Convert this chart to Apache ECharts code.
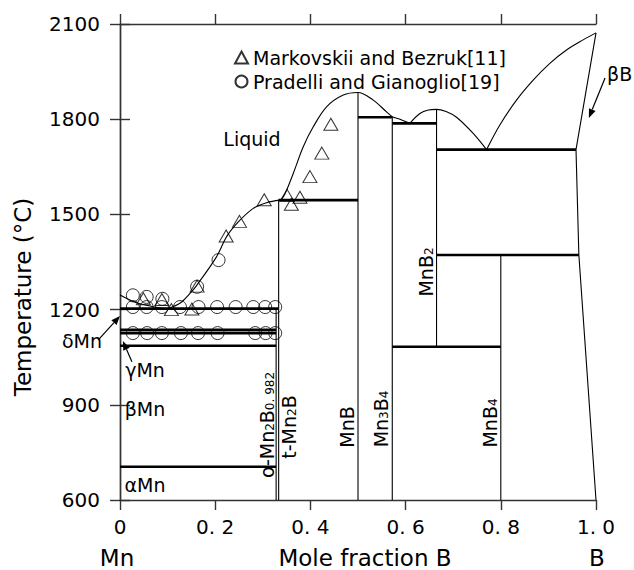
<!DOCTYPE html>
<html>
<head>
<meta charset="utf-8">
<title>Mn-B phase diagram</title>
<script src="https://cdn.jsdelivr.net/npm/echarts@6/dist/echarts.min.js"></script>
<style>
  html, body { margin: 0; padding: 0; background: #fff; }
  #chart { width: 634px; height: 570px; }
</style>
</head>
<body>
<div id="chart"></div>
<script>
var FONT = 'DejaVu Sans';

// axes
var xTicks = [0, 0.2, 0.4, 0.6, 0.8, 1.0];
var xTickLabels = ['0', '0. 2', '0. 4', '0. 6', '0. 8', '1. 0'];
var yTicks = [600, 900, 1200, 1500, 1800, 2100];

// liquidus as [mole fraction B, T]
var liqMnSide = [[0, 1246], [0.02, 1231], [0.04, 1219], [0.07, 1209], [0.1, 1203]];
var liqMn2B = [[0.1, 1203], [0.126, 1220], [0.147, 1251], [0.16, 1274], [0.203, 1367], [0.224, 1430],
  [0.249, 1477], [0.28, 1519], [0.308, 1537], [0.336, 1545]];
var liqMnB = [[0.338, 1545], [0.347, 1566], [0.364, 1629], [0.385, 1713], [0.406, 1776], [0.434, 1839],
  [0.469, 1876], [0.5, 1884], [0.532, 1860], [0.56, 1823], [0.572, 1808], [0.588, 1800], [0.609, 1787]];
var liqMnB2 = [[0.609, 1787], [0.63, 1818], [0.648, 1829], [0.665, 1831], [0.685, 1824], [0.707, 1806],
  [0.742, 1755], [0.77, 1704]];
var liqB = [[0.77, 1704], [0.798, 1782], [0.833, 1860], [0.868, 1923], [0.903, 1976], [0.938, 2018],
  [0.973, 2050], [1.0, 2072]];
var solidusB = [[1.0, 2072], [0.958, 1704], [0.964, 1372], [1.0, 600]];

// invariant lines: [T, x from, x to]
var isotherms = [
  [1203, 0, 0.333], [1136, 0, 0.328], [1126, 0, 0.328], [1086, 0, 0.328], [705, 0, 0.328],
  [1545, 0.333, 0.5], [1806, 0.5, 0.572], [1787, 0.572, 0.665],
  [1704, 0.665, 0.958], [1372, 0.665, 0.964], [1083, 0.572, 0.8]
];
// compounds: [x, T bottom, T top]
var compounds = [
  [0.328, 600, 1203], [0.3333, 600, 1545], [0.5, 600, 1884],
  [0.572, 600, 1806], [0.665, 1083, 1831], [0.8, 600, 1372]
];

// experimental points
var markovskii = [[0.049, 1234], [0.088, 1232], [0.108, 1200], [0.151, 1202], [0.162, 1274],
  [0.223, 1432], [0.251, 1478], [0.303, 1546], [0.351, 1560], [0.36, 1532], [0.378, 1554],
  [0.399, 1619], [0.424, 1693], [0.443, 1784]];
var pradelli = [[0.027, 1245], [0.056, 1240], [0.089, 1234], [0.162, 1272], [0.207, 1356],
  [0.027, 1208], [0.056, 1208], [0.088, 1208], [0.126, 1208], [0.165, 1208], [0.204, 1208],
  [0.243, 1208], [0.28, 1208], [0.305, 1208], [0.326, 1208],
  [0.027, 1126], [0.057, 1126], [0.088, 1126], [0.128, 1126], [0.164, 1126], [0.205, 1126],
  [0.284, 1126], [0.306, 1126], [0.326, 1126]];

// arrows for the labels: [from, tip]
var arrowDeltaMn = [[-0.046, 1104], [0, 1180]];
var arrowGammaMn = [[0.025, 1036], [0.006, 1101]];
var arrowBetaB = [[1.019, 1930], [0.985, 1804]];

var black = '#000';
var thin = {color: black, width: 1.1};
var thick = {color: black, width: 2.6};

function lineSeries(data, style) {
  return {
    type: 'line', data: data, symbol: 'none', smooth: false, clip: false,
    lineStyle: style, silent: true, animation: false, z: 3
  };
}
function curveSeries(data) {
  var s = lineSeries(data, thin);
  s.smooth = 0.35;
  return s;
}

var series = [];
[liqMnSide, liqMn2B, liqMnB, liqMnB2, liqB].forEach(function (d) { series.push(curveSeries(d)); });
series.push(lineSeries(solidusB, thin));
isotherms.forEach(function (h) {
  series.push(lineSeries([[h[1], h[0]], [h[2], h[0]]], thick));
});
compounds.forEach(function (c) {
  series.push(lineSeries([[c[0], c[1]], [c[0], c[2]]], thin));
});
series.push({
  name: 'Markovskii and Bezruk[11]', type: 'scatter', data: markovskii,
  symbol: 'triangle', symbolSize: [14, 12], z: 5, animation: false,
  itemStyle: {color: 'rgba(0,0,0,0)', borderColor: black, borderWidth: 1}
});
series.push({
  name: 'Pradelli and Gianoglio[19]', type: 'scatter', data: pradelli,
  symbol: 'circle', symbolSize: 13, z: 5, animation: false,
  itemStyle: {color: 'rgba(0,0,0,0)', borderColor: black, borderWidth: 1}
});

var axisLine = {show: true, lineStyle: {color: '#333', width: 1.4}};
var axisTick = {show: true, inside: false, length: 10, lineStyle: {color: '#333', width: 1.4}};

var option = {
  animation: false,
  backgroundColor: '#fff',
  grid: {left: 120, right: 38, top: 24, bottom: 70},
  legend: {
    orient: 'vertical', left: 229, top: 43, itemWidth: 13, itemHeight: 12, itemGap: 5,
    selectedMode: false,
    textStyle: {fontFamily: FONT, fontSize: 19, color: black},
    data: ['Markovskii and Bezruk[11]', 'Pradelli and Gianoglio[19]']
  },
  xAxis: [{
    type: 'value', min: xTicks[0], max: xTicks[xTicks.length - 1], interval: 0.2, position: 'bottom',
    axisLine: axisLine, axisTick: axisTick, splitLine: {show: false},
    axisLabel: {
      margin: 17, color: black, fontFamily: FONT, fontSize: 20,
      formatter: function (v) { return xTickLabels[Math.round(v / 0.2)]; }
    }
  }, {
    type: 'value', min: xTicks[0], max: xTicks[xTicks.length - 1], interval: 0.2, position: 'top',
    axisLine: axisLine, axisTick: axisTick, splitLine: {show: false}, axisLabel: {show: false}
  }],
  yAxis: [{
    type: 'value', min: yTicks[0], max: yTicks[yTicks.length - 1], interval: 300, position: 'left',
    axisLine: axisLine, axisTick: axisTick, splitLine: {show: false},
    axisLabel: {
      margin: 20, color: black, fontFamily: FONT, fontSize: 20,
      formatter: function (v) { return String(yTicks[Math.round((v - yTicks[0]) / 300)]); }
    }
  }, {
    type: 'value', min: yTicks[0], max: yTicks[yTicks.length - 1], interval: 300, position: 'right',
    axisLine: axisLine, axisTick: axisTick, splitLine: {show: false}, axisLabel: {show: false}
  }],
  series: series
};

var chart = echarts.init(document.getElementById('chart'), null, {renderer: 'svg'});
chart.setOption(option);

function px(p) { return chart.convertToPixel({gridIndex: 0}, p); }

function arrow(pts) {
  var a = px(pts[0]), b = px(pts[1]);
  var dx = b[0] - a[0], dy = b[1] - a[1];
  var len = Math.sqrt(dx * dx + dy * dy);
  var ux = dx / len, uy = dy / len, hl = 9, hw = 3.5;
  var bx = b[0] - ux * hl, by = b[1] - uy * hl;
  return [
    {type: 'line', shape: {x1: a[0], y1: a[1], x2: bx, y2: by}, style: {stroke: black, lineWidth: 1.2}},
    {type: 'polygon', shape: {points: [[b[0], b[1]], [bx - uy * hw, by + ux * hw], [bx + uy * hw, by - ux * hw]]},
      style: {fill: black}}
  ];
}

// subscripts: small token pushed a little below the middle of the line
var richSub = {
  n: {fontFamily: FONT, fontSize: 19, lineHeight: 24, verticalAlign: 'middle', fill: black},
  s: {fontFamily: FONT, fontSize: 12, lineHeight: 12, verticalAlign: 'middle', padding: [5, 0, 0, 0], fill: black}
};

function text(str, x, y, size, opts) {
  opts = opts || {};
  return {
    type: 'text', x: x, y: y, rotation: opts.rotate ? Math.PI / 2 : 0, z: 10,
    style: {
      text: str, fontFamily: FONT, fontSize: size, fill: black,
      align: opts.align || 'center', verticalAlign: 'middle', rich: opts.rich
    }
  };
}

var graphics = [].concat(
  arrow(arrowDeltaMn), arrow(arrowGammaMn), arrow(arrowBetaB),
  [
    text('Liquid', 252, 139, 19),
    text('δMn', 82, 341, 19),
    text('γMn', 145, 370, 19),
    text('βMn', 145, 409, 19),
    text('αMn', 145, 485, 19),
    text('βB', 607, 74, 19, {align: 'left'}),
    text('{n|o-Mn}{s|2}{n|B}{s|0. 982}', 267, 425, 19, {rotate: true, rich: richSub}),
    text('{n|t-Mn}{s|2}{n|B}', 289, 427, 19, {rotate: true, rich: richSub}),
    text('{n|MnB}', 347, 427, 19, {rotate: true, rich: richSub}),
    text('{n|Mn}{s|3}{n|B}{s|4}', 381, 419, 19, {rotate: true, rich: richSub}),
    text('{n|MnB}{s|2}', 426, 272, 19, {rotate: true, rich: richSub}),
    text('{n|MnB}{s|4}', 490, 423, 19, {rotate: true, rich: richSub}),
    text('Mn', 117, 558, 23),
    text('Mole fraction B', 365, 558, 23),
    text('B', 597, 558, 23),
    text('Temperature (°C)', 23, 297, 23, {rotate: true})
  ]
);

chart.setOption({graphic: graphics});
</script>
</body>
</html>
